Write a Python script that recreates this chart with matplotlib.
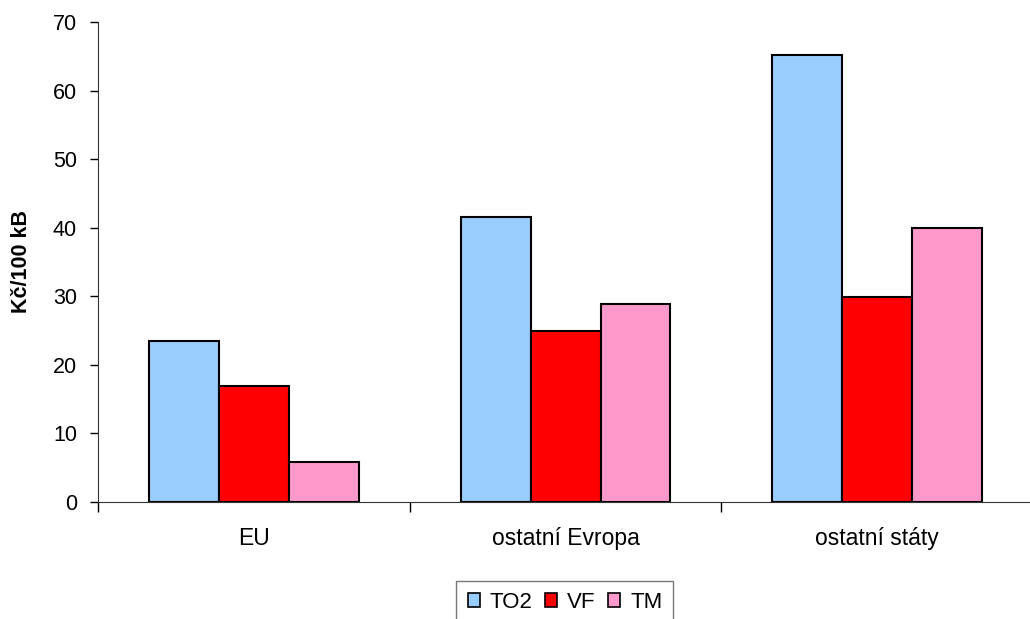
import matplotlib.pyplot as plt
import numpy as np
from matplotlib.patches import Patch

plt.rcParams['font.family'] = ['Liberation Sans', 'DejaVu Sans']

# data
categories = ['EU', 'ostatní Evropa', 'ostatní státy']
series_names = ['TO2', 'VF', 'TM']
to2 = [23.5, 41.6, 65.2]
vf = [16.9, 24.9, 29.9]
tm = [5.9, 28.9, 39.9]
colors = ['#99ccff', '#ff0000', '#ff99cc']

fig = plt.figure(figsize=(10.3, 6.19), dpi=100)
ax = fig.add_axes([0.0951, 0.189, 0.908, 0.7755])

x = np.arange(len(categories))
w = 70 / 312
for i, vals in enumerate([to2, vf, tm]):
    ax.bar(x + (i - 1) * w, vals, width=w, color=colors[i],
           edgecolor='black', linewidth=1.5)

ax.set_xlim(-0.5, 2.5)
ax.set_ylim(0, 70)
ax.set_yticks(range(0, 71, 10))
ax.tick_params(axis='y', labelsize=15.5, direction='out', length=6, width=1, pad=9)

# category labels at centers, tick marks on boundaries
ax.set_xticks(x)
ax.set_xticklabels(categories, fontsize=16.5)
ax.tick_params(axis='x', length=0, pad=18)
ax.set_xticks([-0.5, 0.5, 1.5, 2.5], minor=True)
ax.tick_params(axis='x', which='minor', length=7, width=1, direction='out')

for s in ['top', 'right']:
    ax.spines[s].set_visible(False)
ax.spines['left'].set_color('#333333')
ax.spines['bottom'].set_color('#333333')

ax.set_ylabel('Kč/100 kB', fontsize=15.5, fontweight='bold', labelpad=15)

handles = [Patch(facecolor=c, edgecolor='black', linewidth=1.2) for c in colors]
leg = fig.legend(handles, series_names, loc='upper center', ncol=3,
                 bbox_to_anchor=(0.5485, 1 - 581 / 619), fontsize=16, frameon=True,
                 fancybox=False, edgecolor='#555555', handlelength=0.55,
                 handleheight=0.6, handletextpad=0.45, columnspacing=0.55,
                 borderpad=0.5, borderaxespad=0)
leg.get_frame().set_linewidth(1)

fig.savefig('out.png', dpi=100)
